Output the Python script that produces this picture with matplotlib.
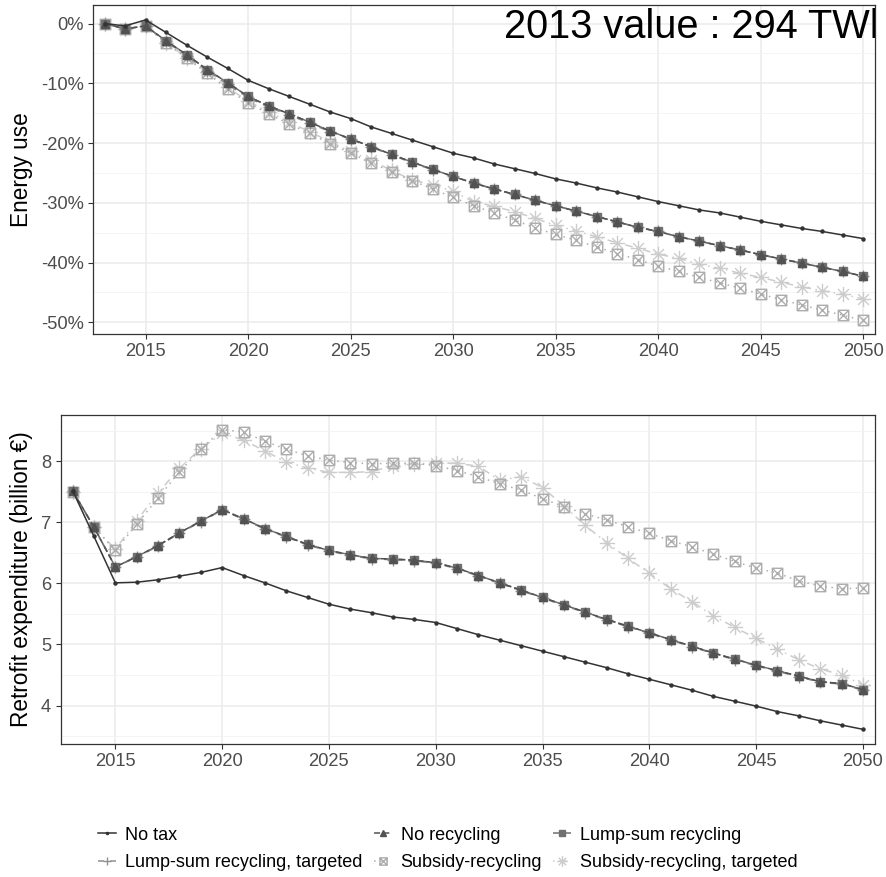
import numpy as np
import matplotlib
matplotlib.use("Agg")
import matplotlib.pyplot as plt
from matplotlib.path import Path
from matplotlib.ticker import FuncFormatter, MultipleLocator

plt.rcParams['font.family'] = ['Liberation Sans', 'DejaVu Sans']
plt.rcParams['axes.unicode_minus'] = False

years = list(range(2013, 2051))

labels = ["No tax", "No recycling", "Lump-sum recycling",
          "Lump-sum recycling, targeted", "Subsidy-recycling",
          "Subsidy-recycling, targeted"]

# energy use, % change vs 2013
energy_no_tax = [0, -0.4, 0.6, -1.5, -3.6, -5.6, -7.5, -9.5, -10.9, -12.2,
                 -13.5, -14.8, -15.9, -17.3, -18.4, -19.5, -20.6, -21.7, -22.5, -23.5,
                 -24.3, -25.1, -26.0, -26.7, -27.5, -28.2, -29.0, -29.8, -30.5, -31.2,
                 -31.7, -32.4, -33.1, -33.7, -34.3, -34.8, -35.4, -36.0]
energy_no_recycling = [0, -0.9, -0.4, -2.9, -5.2, -7.7, -9.9, -12.2, -13.8, -15.1,
                       -16.5, -18.0, -19.3, -20.6, -21.9, -23.2, -24.4, -25.6, -26.7, -27.7,
                       -28.6, -29.6, -30.5, -31.4, -32.3, -33.2, -34.1, -34.8, -35.7, -36.4,
                       -37.2, -37.9, -38.7, -39.4, -40.1, -40.8, -41.5, -42.3]
energy_lump_sum = [0, -0.9, -0.4, -2.9, -5.2, -7.7, -9.9, -12.2, -13.8, -15.1,
                   -16.5, -18.0, -19.3, -20.6, -21.9, -23.2, -24.4, -25.6, -26.7, -27.7,
                   -28.6, -29.6, -30.5, -31.4, -32.3, -33.2, -34.1, -34.8, -35.7, -36.4,
                   -37.2, -37.9, -38.7, -39.4, -40.1, -40.8, -41.5, -42.3]
energy_lump_targeted = [0, -0.9, -0.4, -3.0, -5.4, -7.9, -10.2, -12.4, -14.0, -15.3,
                        -16.7, -18.1, -19.4, -20.7, -22.0, -23.3, -24.5, -25.6, -26.7, -27.7,
                        -28.6, -29.6, -30.5, -31.4, -32.3, -33.2, -34.1, -34.8, -35.7, -36.4,
                        -37.2, -37.9, -38.7, -39.4, -40.1, -40.8, -41.5, -42.3]
energy_subsidy = [0, -0.9, -0.4, -3.3, -5.8, -8.3, -11.0, -13.3, -15.1, -16.8,
                  -18.4, -20.1, -21.7, -23.3, -24.8, -26.3, -27.7, -29.1, -30.5, -31.7,
                  -32.9, -34.2, -35.3, -36.3, -37.4, -38.5, -39.5, -40.6, -41.5, -42.5,
                  -43.4, -44.3, -45.3, -46.2, -47.1, -48.0, -48.8, -49.7]
energy_subsidy_targeted = [0, -0.9, -0.4, -3.2, -5.7, -8.1, -10.7, -13.0, -14.8, -16.5,
                           -18.1, -19.8, -21.4, -22.9, -24.6, -26.2, -27.0, -28.1, -29.8, -30.6,
                           -31.5, -32.6, -33.8, -34.7, -35.7, -36.7, -37.6, -38.6, -39.3, -40.3,
                           -41.0, -41.8, -42.5, -43.3, -44.1, -44.7, -45.3, -46.1]

# retrofit expenditure, billion euro
retro_no_tax = [7.52, 6.77, 6.01, 6.02, 6.06, 6.12, 6.18, 6.26, 6.13, 6.01,
                5.88, 5.77, 5.66, 5.58, 5.52, 5.45, 5.41, 5.36, 5.26, 5.16,
                5.07, 4.98, 4.89, 4.80, 4.71, 4.62, 4.52, 4.43, 4.34, 4.25,
                4.15, 4.07, 3.99, 3.90, 3.83, 3.75, 3.68, 3.61]
retro_no_recycling = [7.52, 6.92, 6.27, 6.44, 6.62, 6.83, 7.02, 7.21, 7.06, 6.90,
                      6.77, 6.64, 6.54, 6.47, 6.41, 6.40, 6.38, 6.34, 6.25, 6.13,
                      6.01, 5.89, 5.77, 5.65, 5.53, 5.41, 5.30, 5.19, 5.08, 4.97,
                      4.86, 4.76, 4.66, 4.57, 4.48, 4.39, 4.36, 4.26]
retro_lump_sum = [7.52, 6.92, 6.27, 6.44, 6.62, 6.83, 7.02, 7.21, 7.06, 6.90,
                  6.77, 6.64, 6.54, 6.47, 6.41, 6.40, 6.38, 6.34, 6.25, 6.13,
                  6.01, 5.89, 5.77, 5.65, 5.53, 5.41, 5.30, 5.19, 5.08, 4.97,
                  4.86, 4.76, 4.66, 4.57, 4.48, 4.39, 4.36, 4.26]
retro_lump_targeted = [7.52, 6.92, 6.27, 6.43, 6.61, 6.82, 7.01, 7.20, 7.05, 6.89,
                       6.76, 6.63, 6.53, 6.46, 6.40, 6.39, 6.37, 6.33, 6.24, 6.12,
                       6.00, 5.88, 5.76, 5.64, 5.52, 5.40, 5.29, 5.18, 5.07, 4.96,
                       4.85, 4.75, 4.65, 4.56, 4.47, 4.38, 4.35, 4.25]
retro_subsidy = [7.50, 6.92, 6.54, 6.97, 7.40, 7.83, 8.20, 8.52, 8.48, 8.33,
                 8.20, 8.09, 8.02, 7.98, 7.96, 7.97, 7.97, 7.93, 7.85, 7.75,
                 7.63, 7.53, 7.39, 7.26, 7.14, 7.04, 6.93, 6.82, 6.70, 6.60,
                 6.48, 6.36, 6.25, 6.17, 6.04, 5.96, 5.91, 5.93]
retro_subsidy_targeted = [7.50, 6.92, 6.56, 7.03, 7.48, 7.89, 8.21, 8.46, 8.35, 8.17,
                          7.99, 7.89, 7.82, 7.82, 7.83, 7.93, 7.96, 7.97, 7.97, 7.92,
                          7.69, 7.75, 7.57, 7.27, 6.95, 6.67, 6.41, 6.17, 5.91, 5.70,
                          5.47, 5.28, 5.10, 4.92, 4.75, 4.60, 4.50, 4.34]

# square with a cross (ggplot shape 7) and 8-arm asterisk (shape 8)
boxx = Path([(-1, -1), (1, -1), (1, 1), (-1, 1), (-1, -1),
             (-1, -1), (1, 1), (-1, 1), (1, -1)],
            [Path.MOVETO, Path.LINETO, Path.LINETO, Path.LINETO, Path.CLOSEPOLY,
             Path.MOVETO, Path.LINETO, Path.MOVETO, Path.LINETO])
d = 0.707
aster = Path([(-1, 0), (1, 0), (0, -1), (0, 1), (-d, -d), (d, d), (-d, d), (d, -d)],
             [Path.MOVETO, Path.LINETO] * 4)

colors = ["#333333", "#525252", "#707070", "#8F8F8F", "#ADADAD", "#CCCCCC"]
styles = ["-", (0, (4, 2)), (0, (6, 2)), (0, (4, 4)), (0, (1, 3)), (0, (1, 3, 5, 3))]
markers = ["o", "^", "s", "+", boxx, aster]
msizes = [2.2, 6, 5.5, 9, 7.5, 11]

energy = [energy_no_tax, energy_no_recycling, energy_lump_sum,
          energy_lump_targeted, energy_subsidy, energy_subsidy_targeted]
retro = [retro_no_tax, retro_no_recycling, retro_lump_sum,
         retro_lump_targeted, retro_subsidy, retro_subsidy_targeted]

fig = plt.figure(figsize=(8.87, 8.77), dpi=100)
ax1 = fig.add_axes([0.1049, 0.6192, 0.8816, 0.3751])
ax2 = fig.add_axes([0.0684, 0.1517, 0.9184, 0.3751])


def draw(ax, series):
    handles = []
    for i in range(5, -1, -1):
        filled = markers[i] in ("o", "^", "s")
        h, = ax.plot(years, series[i], color=colors[i], ls=styles[i], lw=1.1,
                     marker=markers[i], ms=msizes[i], mew=1.0,
                     mfc=colors[i] if filled else "none", mec=colors[i],
                     label=labels[i], zorder=3 + (5 - i))
        handles.append(h)
    ax.set_xlim(2012.44, 2050.58)
    ax.xaxis.set_major_locator(MultipleLocator(5))
    ax.grid(True, which="major", color="#EBEBEB", lw=1.1, zorder=0)
    ax.grid(True, which="minor", axis="y", color="#F2F2F2", lw=0.6, zorder=0)
    ax.set_axisbelow(True)
    for s in ax.spines.values():
        s.set_color("#333333")
        s.set_linewidth(0.9)
    ax.tick_params(which="major", length=3.8, width=0.8, color="#333333",
                   labelsize=13.2, labelcolor="#4D4D4D", pad=3)
    ax.tick_params(which="minor", length=0)
    return handles[::-1]


handles = draw(ax1, energy)
ax1.set_ylim(-51.96, 3.1)
ax1.yaxis.set_major_locator(MultipleLocator(10))
ax1.yaxis.set_minor_locator(MultipleLocator(5))
ax1.yaxis.set_major_formatter(FuncFormatter(lambda v, p: f"{int(round(v))}%"))
ax1.set_ylabel("Energy use", fontsize=16.3)
ax1.yaxis.set_label_coords(-0.077, 0.5)
# the label runs past the panel edge and is cut there, like the original
ax1.text(2032.46, -2.4, "2013 value : 294 TWh", fontsize=28.6, color="black",
         va="baseline", ha="left", clip_on=True, zorder=10)

draw(ax2, retro)
ax2.set_ylim(3.37, 8.76)
ax2.yaxis.set_major_locator(MultipleLocator(1))
ax2.yaxis.set_minor_locator(MultipleLocator(0.5))
ax2.set_ylabel("Retrofit expenditure (billion €)", fontsize=16.3)
ax2.yaxis.set_label_coords(-0.034, 0.5)

# legend filled row by row, as in the original
order = [0, 3, 1, 4, 2, 5]
fig.legend([handles[i] for i in order], [labels[i] for i in order],
           loc="center", bbox_to_anchor=(0.505, 0.032), ncol=3,
           frameon=False, fontsize=13, handlelength=1.0, handletextpad=0.5,
           columnspacing=0.6, labelspacing=0.6, markerscale=0.7)

fig.savefig("out.png", dpi=100)
